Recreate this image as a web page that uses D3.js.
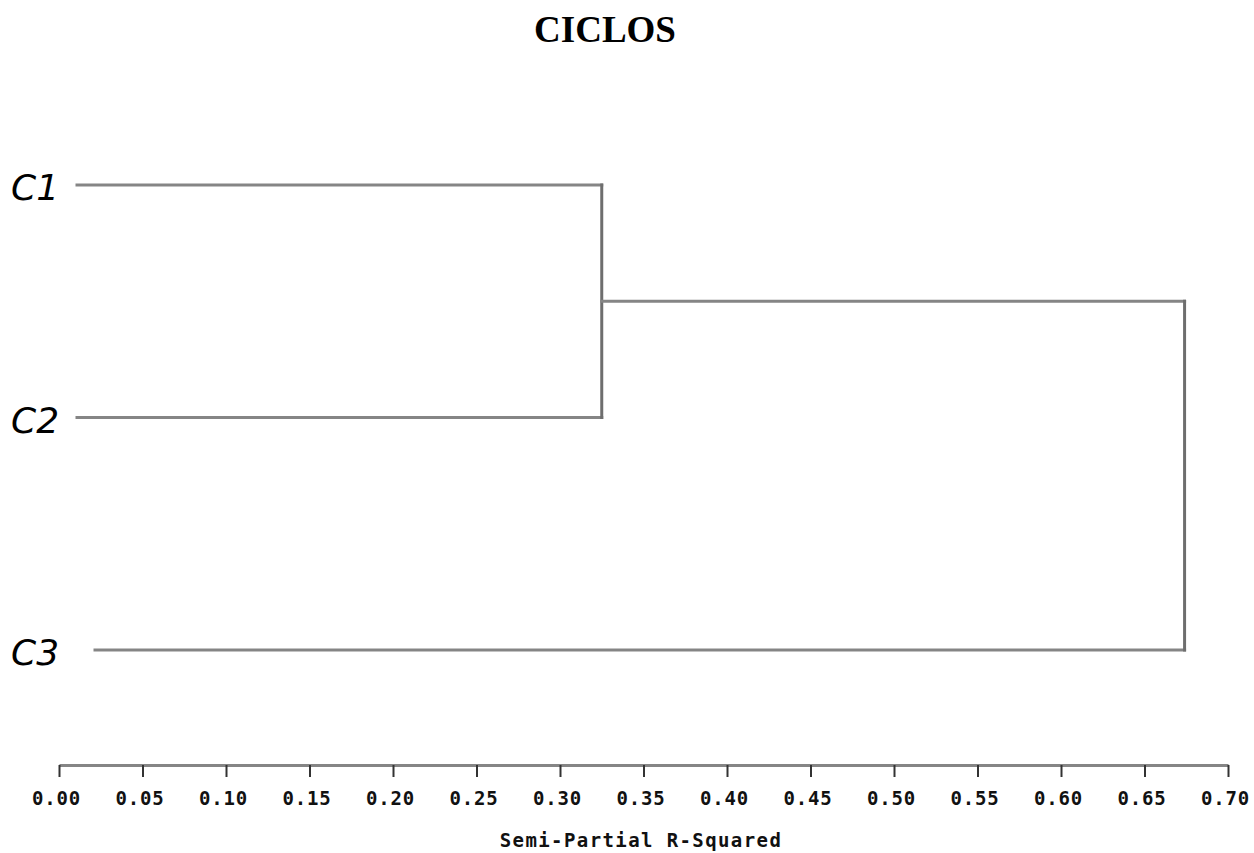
<!DOCTYPE html>
<html lang="es">
<head>
<meta charset="UTF-8">
<title>CICLOS</title>
<script src="https://d3js.org/d3.v7.min.js"></script>
<style>
  body { margin: 0; background: #fff; overflow: hidden; }
</style>
</head>
<body>
<script>
// leaves, top to bottom
var leaves = ["C1", "C2", "C3"];
// merges: two children and the semi-partial R-squared where they join
var mergeNames = ["CL2", "CL1"];
var mergeLeft = ["C1", "CL2"];
var mergeRight = ["C2", "C3"];
var mergeHeight = [0.325, 0.674];
var tickValues = [0, 0.05, 0.10, 0.15, 0.20, 0.25, 0.30, 0.35, 0.40, 0.45, 0.50, 0.55, 0.60, 0.65, 0.70];

var w = 1254, h = 853;
var axisY = 765;
// where each leaf's line begins, right after its label
var leafStart = [77, 77, 95];

var svg = d3.select("body").append("svg").attr("width", w).attr("height", h);

var x = d3.scaleLinear().domain([0, 0.70]).range([59, 1228]);
var y = d3.scalePoint().domain(leaves).range([185, 650]);

// node positions
var pos = {};
leaves.forEach(function (d, i) {
  pos[d] = { x: leafStart[i], y: y(d) };
});
mergeNames.forEach(function (d, i) {
  var a = pos[mergeLeft[i]], b = pos[mergeRight[i]];
  pos[d] = { x: x(mergeHeight[i]), y: (a.y + b.y) / 2 };
});

// title
svg.append("text")
  .attr("x", 605).attr("y", 42)
  .attr("text-anchor", "middle")
  .style("font-family", "'Liberation Serif', 'Times New Roman', serif")
  .style("font-weight", "bold")
  .style("font-size", "37px")
  .text("CICLOS");

// leaf labels
svg.selectAll("text.leaf").data(leaves).enter().append("text")
  .attr("class", "leaf")
  .attr("x", 11)
  .attr("y", function (d) { return y(d) + 15; })
  .style("font-family", "'DejaVu Sans', sans-serif")
  .style("font-style", "italic")
  .style("font-size", "36px")
  .text(function (d) { return d; });

// dendrogram links
var g = svg.append("g")
  .attr("fill", "none")
  .attr("stroke", "#858585")
  .attr("stroke-width", 3)
  .attr("stroke-linecap", "square");

mergeNames.forEach(function (d, i) {
  var m = pos[d];
  [mergeLeft[i], mergeRight[i]].forEach(function (c) {
    var p = pos[c];
    g.append("path").attr("d", "M" + p.x + "," + p.y + "H" + m.x);
  });
  g.append("path")
    .attr("d", "M" + m.x + "," + pos[mergeLeft[i]].y + "V" + pos[mergeRight[i]].y)
    .attr("stroke", "#6e6e6e");
});

// x axis
var axis = d3.axisBottom(x)
  .tickValues(tickValues)
  .tickFormat(d3.format(".2f"))
  .tickSize(12)
  .tickSizeOuter(0)
  .tickPadding(15);

var ax = svg.append("g")
  .attr("transform", "translate(0," + axisY + ")")
  .call(axis);

ax.select(".domain").attr("stroke", "#858585").attr("stroke-width", 3);
ax.selectAll(".tick line").attr("stroke", "#333").attr("stroke-width", 2);
ax.selectAll(".tick text")
  .attr("fill", "#111")
  .attr("dx", "-3px")
  .style("font-family", "'DejaVu Sans Mono', monospace")
  .style("font-weight", "bold")
  .style("font-size", "19px")
  .style("letter-spacing", "0.8px");

// axis label
svg.append("text")
  .attr("x", 641).attr("y", 847)
  .attr("text-anchor", "middle")
  .attr("fill", "#111")
  .style("font-family", "'DejaVu Sans Mono', monospace")
  .style("font-weight", "bold")
  .style("font-size", "19px")
  .style("letter-spacing", "1.4px")
  .text("Semi-Partial R-Squared");
</script>
</body>
</html>
